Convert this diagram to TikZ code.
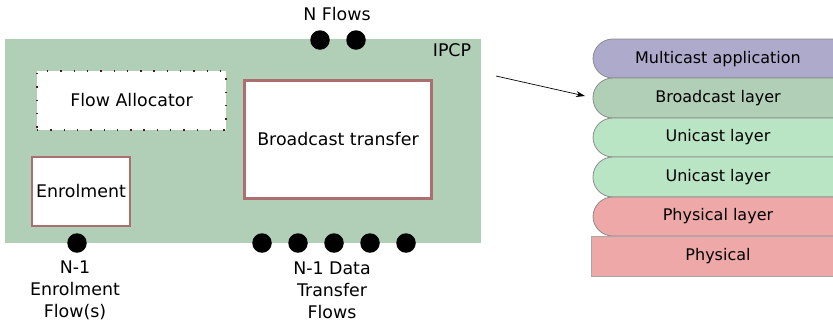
\documentclass[tikz,border=0pt]{standalone}
\usepackage{fontspec}
\setmainfont{DejaVu Sans}
\usetikzlibrary{arrows.meta}
\definecolor{ipcpgreen}{HTML}{B1CFB7}
\definecolor{boxred}{HTML}{AC6E6E}
\definecolor{dotbrown}{HTML}{4A1E1E}
\definecolor{mcpurple}{HTML}{AEAACB}
\definecolor{bcgreen}{HTML}{B1CFB7}
\definecolor{ucgreen}{HTML}{BAE5C5}
\definecolor{phred}{HTML}{EEA8A8}
\definecolor{pillborder}{HTML}{8A8A8A}
\definecolor{rectborder}{HTML}{A8A8A8}
\begin{document}
\begin{tikzpicture}[x=1pt,y=-1pt,
  every node/.style={font=\fontsize{17.4}{22}\selectfont, inner sep=0pt},
  flowdot/.style={circle, fill=black, minimum size=19.5pt},
  whitebox/.style={rectangle, fill=white, draw=boxred, line width=2pt},
  layerpill/.style={rounded corners=19.8pt, draw=pillborder, line width=0.8pt},
  layertext/.style={font=\fontsize{16}{20}\selectfont}
]
\useasboundingbox (0,0) rectangle (833,322);
\clip (0,0) rectangle (833,322);
% IPCP
\node[rectangle, fill=ipcpgreen, minimum width=476pt, minimum height=204pt] (ipcp) at (243,141) {};
\node (ipcplabel) at (452,50) {IPCP};
\node (nflows) at (337,14) {N Flows};
% inner boxes
\node[rectangle, fill=white, draw=dotbrown, line width=1.4pt, dash pattern=on 1.4pt off 11.9pt,
      minimum width=189pt, minimum height=59pt] (fa) at (131.5,100.5) {Flow Allocator};
\node[whitebox, minimum width=98pt, minimum height=69pt] (enrol) at (81,191.5) {Enrolment};
\node[whitebox, line width=3pt, minimum width=186.5pt, minimum height=118pt] (bt) at (338,139.5) {Broadcast transfer};
% flow dots
\node[flowdot] (n1) at (320,40) {};
\node[flowdot] (n2) at (356,40) {};
\node[flowdot] (e1) at (77,243) {};
\node[flowdot] (d1) at (262,243) {};
\node[flowdot] (d2) at (298,243) {};
\node[flowdot] (d3) at (334,243) {};
\node[flowdot] (d4) at (370,243) {};
\node[flowdot] (d5) at (406,243) {};
\node[align=center] (elabel) at (75,290) {N-1\\Enrolment\\Flow(s)};
\node[align=center] (dlabel) at (332,290) {N-1 Data\\Transfer\\Flows};
% arrow
\coordinate (astart) at (496,76);
\coordinate (aend) at (585,96);
\draw[-{Stealth[length=9pt,width=6pt]}, line width=0.7pt] (astart) -- (aend);
% layer stack
\draw[layerpill, fill=mcpurple] (593,39) rectangle (855,78);
\draw[layerpill, fill=bcgreen] (593,78) rectangle (855,118);
\draw[layerpill, fill=ucgreen] (593,118) rectangle (855,157);
\draw[layerpill, fill=ucgreen] (593,157) rectangle (855,197);
\draw[layerpill, fill=phred] (593,197) rectangle (855,236);
\draw[fill=phred, draw=rectborder, line width=0.8pt] (591,236) rectangle (870,276);
\node[layertext] (mc) at (718,59) {Multicast application};
\node[layertext] (bc) at (718,98) {Broadcast layer};
\node[layertext] (uc1) at (718,137.5) {Unicast layer};
\node[layertext] (uc2) at (718,177) {Unicast layer};
\node[layertext] (phl) at (718,216.5) {Physical layer};
\node[layertext] (ph) at (718,256) {Physical};
\end{tikzpicture}
\end{document}
